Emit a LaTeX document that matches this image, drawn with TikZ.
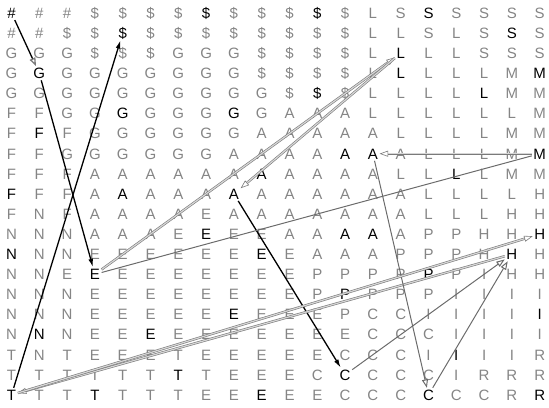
\documentclass[tikz,border=0pt]{standalone}
\usepackage{fontspec}
\setmainfont{Liberation Sans}
\usetikzlibrary{arrows.meta}

\definecolor{cellgray}{gray}{0.52}
\definecolor{linegray}{gray}{0.42}
\definecolor{pathgray}{gray}{0.48}
\definecolor{pathfill}{gray}{0.84}

\begin{document}
\begin{tikzpicture}[x=1bp, y=1bp,
    cell/.style={text=cellgray, font=\fontsize{15bp}{18bp}\selectfont, inner sep=1.5bp, text height=10.7bp, text depth=0bp},
    hilite/.style={c-#1/.style={text=black}},
    hilite/.list={0-0,7-0,11-0,15-0,4-1,18-1,14-2,1-3,14-3,19-3,11-4,17-4,4-5,8-5,1-6,12-7,13-7,19-7,9-8,16-8,0-9,4-9,8-9,7-11,12-11,13-11,19-11,0-12,9-12,18-12,3-13,15-13,12-14,8-15,19-15,1-16,5-16,16-17,6-18,12-18,0-19,3-19,9-19,15-19,19-19},
    jump/.style={-{Latex[length=8.5bp,width=4.8bp]}, line width=1.3bp},
    trace/.style={-{Triangle[open,length=8.5bp,width=6bp,fill=white]}, draw=pathgray, double=pathfill, line width=0.6bp, double distance=1.2bp},
    link/.style={-{Triangle[open,length=8.5bp,width=6bp,fill=white]}, draw=linegray, line width=1bp}
]
    \useasboundingbox (0,0) rectangle (549,407);

    % letter grid, row by row from the top
    \foreach \row [count=\ry from 0] in {
        {\#,\#,\#,\$,\$,\$,\$,\$,\$,\$,\$,\$,\$,L,S,S,S,S,S,S},
        {\#,\#,\$,\$,\$,\$,\$,\$,\$,\$,\$,\$,\$,L,L,S,L,S,S,S},
        {G,G,G,\$,\$,\$,G,G,G,\$,\$,\$,\$,L,L,L,L,S,S,S},
        {G,G,G,G,G,G,G,G,G,\$,\$,\$,\$,L,L,L,L,L,M,M},
        {G,G,G,G,G,G,G,G,G,G,\$,\$,\$,L,L,L,L,L,M,M},
        {F,F,G,G,G,G,G,G,G,G,A,A,A,L,L,L,L,L,L,M},
        {F,F,F,G,G,G,G,G,G,A,A,A,A,A,L,L,L,L,M,M},
        {F,F,G,G,G,G,G,G,A,A,A,A,A,A,A,L,L,L,M,M},
        {F,F,F,A,A,A,A,A,A,A,A,A,A,A,L,L,L,L,M,M},
        {F,F,F,A,A,A,A,A,A,A,A,A,A,A,A,L,L,L,L,H},
        {F,N,F,A,A,A,A,E,A,A,A,A,A,A,A,L,L,L,H,H},
        {N,N,N,A,A,A,E,E,E,E,A,A,A,A,A,P,P,H,H,H},
        {N,N,N,E,E,E,E,E,E,E,E,A,A,A,P,P,P,H,H,H},
        {N,N,E,E,E,E,E,E,E,E,E,P,P,P,P,P,P,I,H,H},
        {N,N,N,E,E,E,E,E,E,E,E,P,P,P,P,P,I,I,I,I},
        {N,N,N,E,E,E,E,E,E,E,E,E,P,C,C,I,I,I,I,I},
        {N,N,N,E,E,E,E,E,E,E,E,E,E,C,C,C,I,I,I,I},
        {T,N,T,E,E,E,T,E,E,E,E,E,C,C,C,I,I,I,I,R},
        {T,T,T,T,T,T,T,T,E,E,E,C,C,C,C,C,I,R,R,R},
        {T,T,T,T,T,T,T,E,E,E,E,E,C,C,C,C,C,C,R,R}}
        \foreach \ch [count=\cx from 0] in \row
            \node[cell, c-\cx-\ry/.try] (n-\cx-\ry) at ({11.5+27.8*\cx}, {394-20.1*\ry}) {\ch};

    % moves
    \draw[jump, -{Triangle[open,length=8.5bp,width=6bp,color=pathgray,fill=white]}] (n-0-0) -- (n-1-3);
    \draw[jump] (n-1-3) -- (n-3-13);
    \draw[trace] (n-3-13) -- (n-14-2);
    \draw[trace] (n-14-2) -- (n-8-9);
    \draw[jump] (n-8-9) -- (n-12-18);
    \draw[link] (n-12-18) -- (n-18-12);
    \draw[trace] (n-18-12) -- (n-0-19);
    \draw[jump] (n-0-19) -- (n-4-1);
    \draw[trace] (n-19-7) -- (n-13-7);
    \draw[link] (n-13-7) -- (n-15-19);
    \draw[link] (n-15-19) -- (n-18-12);
    \draw[trace] (n-0-19) -- (n-19-11);
    \draw[draw=linegray, line width=1bp] (n-19-7) -- (n-3-13);
\end{tikzpicture}
\end{document}
